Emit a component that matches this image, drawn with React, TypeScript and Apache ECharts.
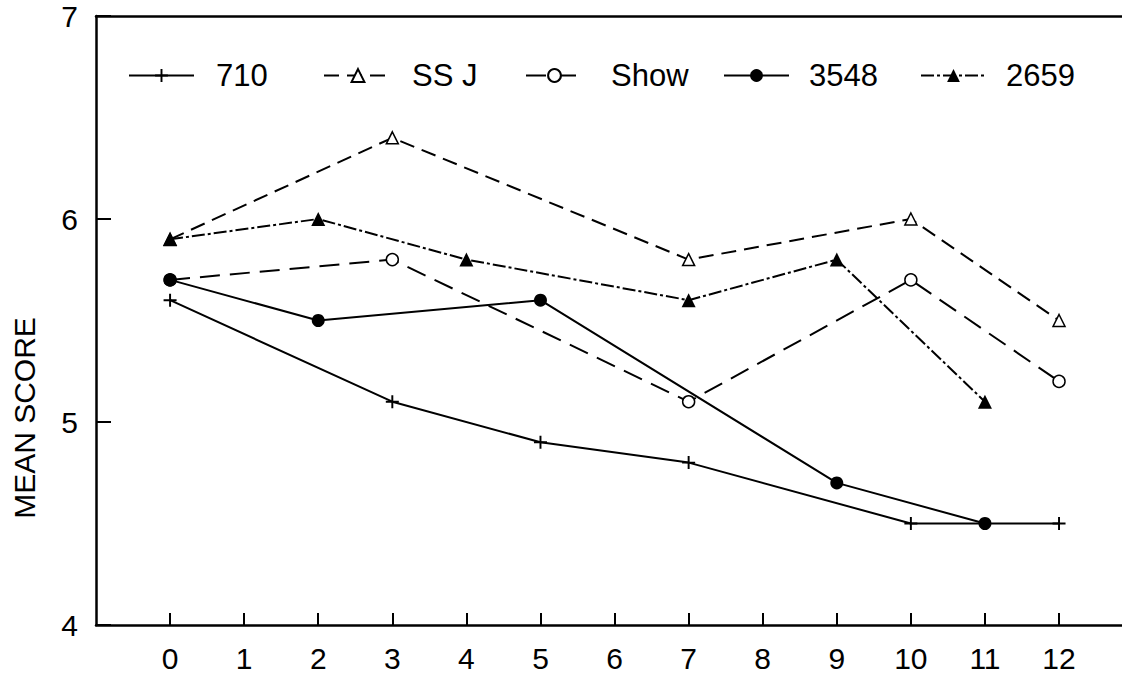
import React, { useEffect, useRef } from "react";
import * as echarts from "echarts";

const seriesNames = ["710", "SS J", "Show", "3548", "2659"];
const s710: [number, number][] = [[0, 5.6], [3, 5.1], [5, 4.9], [7, 4.8], [10, 4.5], [12, 4.5]];
const sSSJ: [number, number][] = [[0, 5.9], [3, 6.4], [7, 5.8], [10, 6.0], [12, 5.5]];
const sShow: [number, number][] = [[0, 5.7], [3, 5.8], [7, 5.1], [10, 5.7], [12, 5.2]];
const s3548: [number, number][] = [[0, 5.7], [2, 5.5], [5, 5.6], [9, 4.7], [11, 4.5]];
const s2659: [number, number][] = [[0, 5.9], [2, 6.0], [4, 5.8], [7, 5.6], [9, 5.8], [11, 5.1]];
const yTicks = [4, 5, 6, 7];
const xTicks = [0, 1, 2, 3, 4, 5, 6, 7, 8, 9, 10, 11, 12];

const PLUS = "path://M-1.2,-8 L1.2,-8 L1.2,-1.2 L8,-1.2 L8,1.2 L1.2,1.2 L1.2,8 L-1.2,8 L-1.2,1.2 L-8,1.2 L-8,-1.2 L-1.2,-1.2 Z";
const FONT = "Liberation Sans";

// legend layout: [left of icon, icon width, gap to text]
const legendLayout: [number, number, number][] = [
  [123, 65, 17],
  [318, 68, 15],
  [520, 57, 23],
  [718, 65, 15],
  [915, 65, 15],
];

export default function App() {
  const ref = useRef<HTMLDivElement>(null);
  useEffect(() => {
    document.body.style.margin = "0";
    const chart = echarts.init(ref.current!, undefined, { renderer: "svg" });
    const line = (name: string, data: [number, number][], type: any, symbol: string, size: number, fill: string, border: number) => ({
      name,
      type: "line",
      data,
      symbol,
      symbolSize: size,
      showSymbol: true,
      lineStyle: { color: "#000", width: 2, type },
      itemStyle: { color: fill, borderColor: "#000", borderWidth: border },
      z: 3,
    });
    chart.setOption({
      animation: false,
      backgroundColor: "#fff",
      textStyle: { fontFamily: FONT },
      grid: { left: 96, right: 0, top: 16, bottom: 58 },
      legend: seriesNames.map((n, i) => ({
        data: [n],
        left: legendLayout[i][0],
        top: 55,
        itemWidth: legendLayout[i][1],
        itemHeight: 16,
        selectedMode: false,
        textStyle: { fontSize: 31, color: "#000", fontFamily: FONT, padding: [0, 0, 0, legendLayout[i][2]] },
      })),
      xAxis: [
        {
          type: "value",
          min: -1,
          max: 12.85,
          interval: 1,
          axisLine: { show: true, onZero: false, lineStyle: { color: "#000", width: 2.5 } },
          axisTick: { show: true, inside: true, length: 12, lineStyle: { color: "#000", width: 2 } },
          axisLabel: {
            show: true,
            margin: 18,
            fontSize: 30,
            color: "#000",
            fontFamily: FONT,
            showMinLabel: false,
            showMaxLabel: false,
            formatter: (v: number) => (xTicks.includes(v) ? String(v) : ""),
          },
          splitLine: { show: false },
        },
        {
          type: "value",
          position: "top",
          min: -1,
          max: 12.85,
          axisLine: { show: true, onZero: false, lineStyle: { color: "#000", width: 2.5 } },
          axisTick: { show: false },
          axisLabel: { show: false },
          splitLine: { show: false },
        },
      ],
      yAxis: {
        type: "value",
        min: 4,
        max: 7,
        interval: 1,
        axisLine: { show: true, onZero: false, lineStyle: { color: "#000", width: 2.5 } },
        axisTick: { show: true, inside: true, length: 15, lineStyle: { color: "#000", width: 2 } },
        axisLabel: {
          margin: 18,
          fontSize: 30,
          color: "#000",
          fontFamily: FONT,
          formatter: (v: number) => (yTicks.includes(v) ? String(v) : ""),
        },
        splitLine: { show: false },
      },
      graphic: [
        {
          type: "text",
          x: 24,
          y: 418,
          rotation: Math.PI / 2,
          style: {
            text: "MEAN SCORE",
            fontSize: 30,
            fontFamily: FONT,
            fill: "#000",
            align: "center",
            verticalAlign: "middle",
          },
        },
      ],
      series: [
        line("710", s710, "solid", PLUS, 13, "#000", 0),
        line("SS J", sSSJ, [15, 8], "triangle", 12, "#fff", 1.5),
        line("Show", sShow, [20, 10], "circle", 12, "#fff", 1.5),
        line("3548", s3548, "solid", "circle", 13, "#000", 0),
        line("2659", s2659, [13, 3, 3, 3], "triangle", 14, "#000", 0),
      ],
    });
    return () => chart.dispose();
  }, []);
  return <div ref={ref} style={{ width: 1122, height: 683 }} />;
}
